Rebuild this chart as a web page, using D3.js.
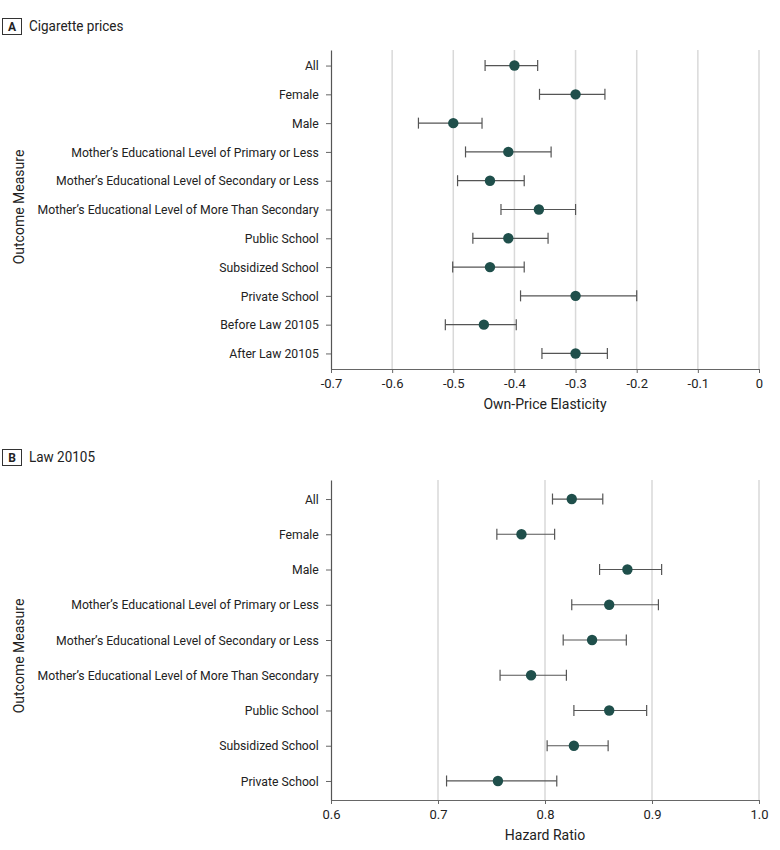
<!DOCTYPE html>
<html>
<head>
<meta charset="utf-8">
<script src="https://cdn.jsdelivr.net/npm/d3@7"></script>
<style>
	body { margin: 0; background: #fff; }
	svg { font-family: 'Roboto', sans-serif; }
</style>
</head>
<body>
<div id="canvas"></div>
<script>
// panel A: cigarette prices, own-price elasticity
const groupsA = [
	'All', 'Female', 'Male',
	'Mother\u2019s Educational Level of Primary or Less',
	'Mother\u2019s Educational Level of Secondary or Less',
	'Mother\u2019s Educational Level of More Than Secondary',
	'Public School', 'Subsidized School', 'Private School',
	'Before Law 20105', 'After Law 20105',
];
const estA = [-0.40, -0.30, -0.50, -0.41, -0.44, -0.36, -0.41, -0.44, -0.30, -0.45, -0.30];
const lowA = [-0.448, -0.359, -0.557, -0.480, -0.493, -0.422, -0.468, -0.501, -0.390, -0.513, -0.355];
const highA = [-0.362, -0.252, -0.453, -0.340, -0.384, -0.300, -0.345, -0.384, -0.200, -0.397, -0.248];
const ticksA = [-0.7, -0.6, -0.5, -0.4, -0.3, -0.2, -0.1, 0];

// panel B: Law 20105, hazard ratio
const groupsB = groupsA.slice(0, 9);
const estB = [0.825, 0.778, 0.877, 0.860, 0.844, 0.787, 0.860, 0.827, 0.756];
const lowB = [0.807, 0.755, 0.851, 0.825, 0.817, 0.758, 0.827, 0.802, 0.708];
const highB = [0.854, 0.809, 0.909, 0.906, 0.876, 0.820, 0.895, 0.859, 0.811];
const ticksB = [0.6, 0.7, 0.8, 0.9, 1.0];

const width = 780;
const height = 850;
const dotColor = '#1f4f4b';
const squeeze = 0.94; // narrow the labels a bit, the original uses a condensed face

const svg = d3.select('#canvas').append('svg').attr('width', width).attr('height', height);

drawPanel({
	letter: 'A', title: 'Cigarette prices', top: 18, yLabelMid: 207,
	y0: 50, y1: 369, groups: groupsA, est: estA, low: lowA, high: highA,
	ticks: ticksA, fmt: d => (d === 0 ? '0' : d3.format('.1f')(d).replace('\u2212', '-')),
	xLabel: 'Own-Price Elasticity',
});
drawPanel({
	letter: 'B', title: 'Law 20105', top: 449, yLabelMid: 656,
	y0: 480, y1: 800, groups: groupsB, est: estB, low: lowB, high: highB,
	ticks: ticksB, fmt: d3.format('.1f'),
	xLabel: 'Hazard Ratio',
});

function drawPanel(p) {
	const left = 331;
	const right = 759;
	const g = svg.append('g');

	// header
	g.append('rect')
		.attr('x', 2.5).attr('y', p.top + 0.5)
		.attr('width', 19).attr('height', 16)
		.attr('fill', '#fff').attr('stroke', '#333').attr('stroke-width', 1);
	g.append('text')
		.attr('x', 12).attr('y', p.top + 13)
		.attr('text-anchor', 'middle')
		.attr('font-size', 12).attr('font-weight', 'bold').attr('fill', '#222')
		.text(p.letter);
	g.append('text')
		.attr('transform', `translate(29,${p.top + 13}) scale(0.9,1)`)
		.attr('font-size', 15).attr('fill', '#222')
		.text(p.title);

	const x = d3.scaleLinear()
		.domain([p.ticks[0], p.ticks[p.ticks.length - 1]])
		.range([left, right]);
	const y = d3.scalePoint()
		.domain(p.groups)
		.range([p.y0, p.y1])
		.padding(0.54);

	// gridlines
	g.append('g')
		.selectAll('line')
		.data(p.ticks.slice(1))
		.join('line')
		.attr('x1', d => x(d)).attr('x2', d => x(d))
		.attr('y1', p.y0).attr('y2', p.y1)
		.attr('stroke', '#d9d9d9').attr('stroke-width', 1.5);

	// x axis
	const xAxis = g.append('g')
		.attr('transform', `translate(0,${p.y1})`)
		.call(d3.axisBottom(x).tickValues(p.ticks).tickFormat(p.fmt).tickSize(4).tickSizeOuter(0));
	xAxis.select('.domain').attr('stroke', '#666').attr('stroke-width', 1.2);
	xAxis.selectAll('.tick line').attr('stroke', '#666');
	xAxis.selectAll('.tick text')
		.attr('font-family', 'Roboto, sans-serif')
		.attr('font-size', 13).attr('fill', '#222').attr('dy', '0.9em');

	// y axis
	const yAxis = g.append('g')
		.attr('transform', `translate(${left},0)`)
		.call(d3.axisLeft(y).tickSize(5).tickPadding(8).tickSizeOuter(0));
	yAxis.select('.domain').attr('stroke', '#555').attr('stroke-width', 1.2);
	yAxis.selectAll('.tick line').attr('stroke', '#666');
	yAxis.selectAll('.tick text')
		.attr('font-family', 'Roboto, sans-serif')
		.attr('font-size', 13).attr('fill', '#222')
		.attr('transform', `scale(${squeeze},1)`);

	g.append('text')
		.attr('x', (left + right) / 2).attr('y', p.y1 + 40)
		.attr('text-anchor', 'middle').attr('font-size', 14).attr('fill', '#222')
		.text(p.xLabel);
	g.append('text')
		.attr('transform', `translate(24,${p.yLabelMid}) rotate(-90)`)
		.attr('text-anchor', 'middle').attr('font-size', 14).attr('fill', '#222')
		.text('Outcome Measure');

	// error bars
	const rows = p.groups.map((name, i) => ({ name, est: p.est[i], low: p.low[i], high: p.high[i] }));
	const bars = g.append('g')
		.selectAll('g')
		.data(rows)
		.join('g')
		.attr('stroke', '#555').attr('stroke-width', 1.2);
	bars.append('line')
		.attr('x1', d => x(d.low)).attr('x2', d => x(d.high))
		.attr('y1', d => y(d.name)).attr('y2', d => y(d.name));
	bars.append('line')
		.attr('x1', d => x(d.low)).attr('x2', d => x(d.low))
		.attr('y1', d => y(d.name) - 5.5).attr('y2', d => y(d.name) + 5.5);
	bars.append('line')
		.attr('x1', d => x(d.high)).attr('x2', d => x(d.high))
		.attr('y1', d => y(d.name) - 5.5).attr('y2', d => y(d.name) + 5.5);

	g.append('g')
		.selectAll('circle')
		.data(rows)
		.join('circle')
		.attr('cx', d => x(d.est)).attr('cy', d => y(d.name))
		.attr('r', 5.2)
		.attr('fill', dotColor);
}
</script>
</body>
</html>
